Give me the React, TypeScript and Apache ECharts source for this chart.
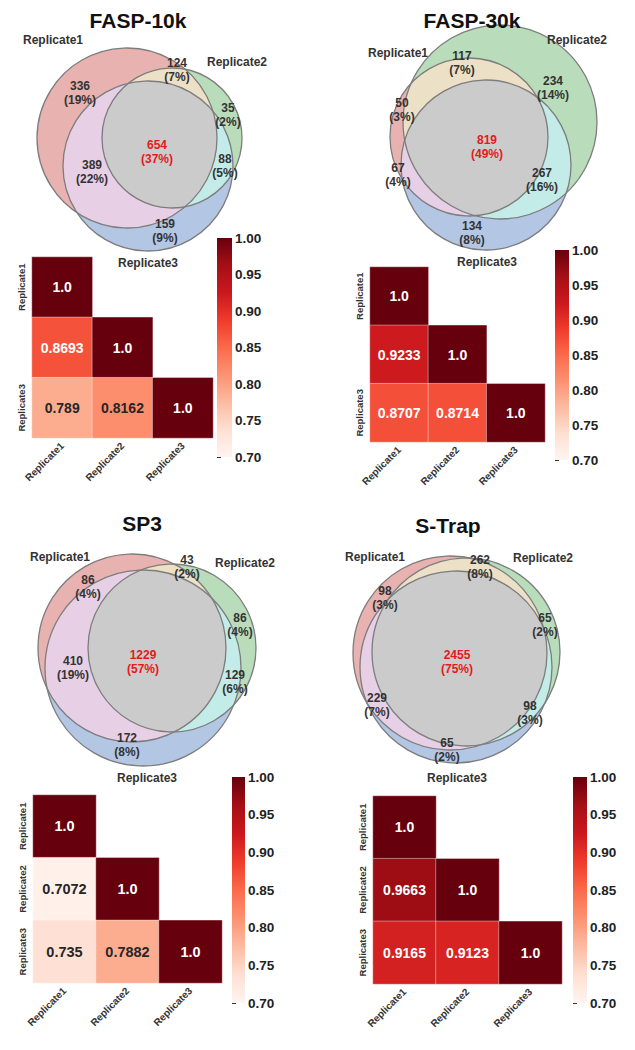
import React, { useEffect, useRef } from "react";
import * as echarts from "echarts";

// ---------------- data ----------------
const replicates = ["Replicate1", "Replicate2", "Replicate3"];
const panelTitles = ["FASP-10k", "FASP-30k", "SP3", "S-Trap"];

// Venn region counts, order: [R1 only, R2 only, R1∩R2, R3 only, R1∩R3, R2∩R3, R1∩R2∩R3]
const vennFasp10k = [336, 35, 124, 159, 389, 88, 654];
const vennFasp30k = [50, 234, 117, 134, 67, 267, 819];
const vennSp3 = [86, 86, 43, 172, 410, 129, 1229];
const vennStrap = [98, 65, 262, 65, 229, 98, 2455];

// Pearson correlation, lower triangle: [R2 vs R1, R3 vs R1, R3 vs R2]
const corrFasp10k = [0.8693, 0.789, 0.8162];
const corrFasp30k = [0.9233, 0.8707, 0.8714];
const corrSp3 = [0.7072, 0.735, 0.7882];
const corrStrap = [0.9663, 0.9165, 0.9123];
const diagValue = 1.0;

const colorMin = 0.7;
const colorMax = 1.0;
const colorInterval = 0.05;

// ---------------- styles / layout ----------------
const REDS = ["#fff5f0", "#fee0d2", "#fcbba1", "#fc9272", "#fb6a4a", "#ef3b2c", "#cb181d", "#a50f15", "#67000d"];
const REGION_COLORS = ["#e8b2b1", "#b9dcba", "#b3c7e4", "#ece0c7", "#e7cfe5", "#c3ebe8", "#cbcbcb"];
const FONT = '"Liberation Sans", Arial, Helvetica, sans-serif';

type Circ = [number, number, number];
interface Layout {
  title: [number, number];
  circles: Circ[]; // R1, R2, R3
  setLabels: [number, number][];
  regionLabels: [number, number][];
  grid: { left: number; top: number; width: number; height: number };
  cbar: { left: number; top: number; width: number; height: number };
  annotSize: number;
}

const layouts: Layout[] = [
  {
    title: [138, 20],
    circles: [[127, 138, 90], [172, 138, 70], [148, 166, 85]],
    setLabels: [[53, 40], [237, 62], [148, 263]],
    regionLabels: [[80, 93], [228, 115], [177, 70], [165, 231], [92, 172], [225, 166], [157, 152]],
    grid: { left: 32, top: 257, width: 181, height: 181 },
    cbar: { left: 217, top: 238, width: 15, height: 219 },
    annotSize: 14,
  },
  {
    title: [472, 20],
    circles: [[469, 137, 79], [500, 122, 97], [486, 165, 85]],
    setLabels: [[398, 53], [577, 40], [487, 262]],
    regionLabels: [[402, 110], [553, 88], [462, 63], [472, 233], [398, 175], [542, 180], [487, 147]],
    grid: { left: 370, top: 267, width: 175, height: 175 },
    cbar: { left: 555, top: 250, width: 14, height: 210 },
    annotSize: 14,
  },
  {
    title: [142, 523],
    circles: [[132, 648, 94], [172, 648, 84], [143, 668, 98]],
    setLabels: [[60, 557], [245, 563], [147, 778]],
    regionLabels: [[88, 587], [240, 625], [187, 567], [127, 745], [73, 668], [235, 682], [143, 662]],
    grid: { left: 33, top: 795, width: 189, height: 188 },
    cbar: { left: 232, top: 777, width: 13, height: 226 },
    annotSize: 14.5,
  },
  {
    title: [448, 525],
    circles: [[450, 653, 97], [466, 652, 94], [456, 667, 96]],
    setLabels: [[375, 557], [543, 558], [457, 778]],
    regionLabels: [[385, 598], [545, 625], [480, 567], [447, 750], [377, 705], [530, 713], [457, 662]],
    grid: { left: 373, top: 796, width: 189, height: 188 },
    cbar: { left: 573, top: 777, width: 14, height: 226 },
    annotSize: 14,
  },
];

const vennData = [vennFasp10k, vennFasp30k, vennSp3, vennStrap];
const corrData = [corrFasp10k, corrFasp30k, corrSp3, corrStrap];

// ---------------- geometry helpers ----------------
function insideAll(x: number, y: number, cs: Circ[]) {
  return cs.every(([cx, cy, r]) => (x - cx) * (x - cx) + (y - cy) * (y - cy) <= r * r);
}

function intersectionPolygon(cs: Circ[]): number[][] | null {
  const [c0x, c0y, r0] = cs[0];
  let sx = 0, sy = 0, n = 0;
  const N = 90;
  for (let i = 0; i <= N; i++) {
    for (let j = 0; j <= N; j++) {
      const x = c0x - r0 + (2 * r0 * i) / N;
      const y = c0y - r0 + (2 * r0 * j) / N;
      if (insideAll(x, y, cs)) { sx += x; sy += y; n++; }
    }
  }
  if (!n) return null;
  const px = sx / n, py = sy / n;
  const pts: number[][] = [];
  const K = 720;
  for (let k = 0; k < K; k++) {
    const a = (k * 2 * Math.PI) / K;
    const dx = Math.cos(a), dy = Math.sin(a);
    let tMin = Infinity;
    for (const [cx, cy, r] of cs) {
      const fx = px - cx, fy = py - cy;
      const b = fx * dx + fy * dy;
      const c = fx * fx + fy * fy - r * r;
      const t = -b + Math.sqrt(Math.max(0, b * b - c));
      if (t < tMin) tMin = t;
    }
    pts.push([px + tMin * dx, py + tMin * dy]);
  }
  return pts;
}

function vennGraphics(i: number): any[] {
  const L = layouts[i];
  const counts = vennData[i];
  const total = counts.reduce((a, b) => a + b, 0);
  const [c1, c2, c3] = L.circles;
  const els: any[] = [];
  // single sets
  [c1, c2, c3].forEach((c, k) => {
    els.push({ type: "circle", silent: true, shape: { cx: c[0], cy: c[1], r: c[2] }, style: { fill: REGION_COLORS[[0, 1, 2][k]] } });
  });
  // pairwise lenses
  const pairs: [Circ[], string][] = [
    [[c1, c2], REGION_COLORS[3]],
    [[c1, c3], REGION_COLORS[4]],
    [[c2, c3], REGION_COLORS[5]],
  ];
  pairs.forEach(([cs, col]) => {
    const pts = intersectionPolygon(cs);
    if (pts) els.push({ type: "polygon", silent: true, shape: { points: pts }, style: { fill: col } });
  });
  const tri = intersectionPolygon([c1, c2, c3]);
  if (tri) els.push({ type: "polygon", silent: true, shape: { points: tri }, style: { fill: REGION_COLORS[6] } });
  // outlines
  [c1, c2, c3].forEach((c) => {
    els.push({ type: "circle", silent: true, shape: { cx: c[0], cy: c[1], r: c[2] }, style: { fill: "none", stroke: "#7d7d7d", lineWidth: 1.3 } });
  });
  // region labels
  counts.forEach((v, k) => {
    const [x, y] = L.regionLabels[k];
    const pct = Math.round((v / total) * 100);
    const isCenter = k === 6;
    els.push({
      type: "text", silent: true, x, y, z: 10,
      style: {
        text: `${v}\n(${pct}%)`,
        fill: isCenter ? "#e41a1c" : "#333333",
        fontSize: 12, fontWeight: "bold", fontFamily: FONT, lineHeight: 13.5,
        align: "center", verticalAlign: "middle", textAlign: "center", textVerticalAlign: "middle",
      },
    });
  });
  // set labels
  L.setLabels.forEach(([x, y], k) => {
    els.push({
      type: "text", silent: true, x, y, z: 10,
      style: {
        text: replicates[k], fill: "#333333", fontSize: 12, fontWeight: "bold", fontFamily: FONT,
        align: "center", verticalAlign: "middle", textAlign: "center", textVerticalAlign: "middle",
      },
    });
  });
  // title
  els.push({
    type: "text", silent: true, x: L.title[0], y: L.title[1], z: 10,
    style: {
      text: panelTitles[i], fill: "#111111", fontSize: 21, fontWeight: "bold", fontFamily: FONT,
      align: "center", verticalAlign: "middle", textAlign: "center", textVerticalAlign: "middle",
    },
  });
  return els;
}

function heatData(corr: number[]) {
  const [r21, r31, r32] = corr;
  const cells: [number, number, number][] = [
    [0, 0, diagValue], [0, 1, r21], [1, 1, diagValue], [0, 2, r31], [1, 2, r32], [2, 2, diagValue],
  ];
  return cells.map((c) => ({
    value: c,
    label: { color: c[2] >= 0.84 ? "#ffffff" : "#262626" },
  }));
}

function buildOption(): any {
  const grid: any[] = [];
  const xAxis: any[] = [];
  const yAxis: any[] = [];
  const series: any[] = [];
  const visualMap: any[] = [];
  let graphics: any[] = [];
  const stops = REDS.map((c, k) => ({ offset: k / (REDS.length - 1), color: REDS[REDS.length - 1 - k] }));

  layouts.forEach((L, i) => {
    const gi = 2 * i;
    const ci = 2 * i + 1;
    grid.push({ left: L.grid.left, top: L.grid.top, width: L.grid.width, height: L.grid.height });
    grid.push({ left: L.cbar.left, top: L.cbar.top, width: L.cbar.width, height: L.cbar.height });

    xAxis.push({
      type: "category", gridIndex: gi, data: replicates,
      axisLine: { show: false }, axisTick: { show: false }, splitLine: { show: false },
      axisLabel: { rotate: 45, margin: 6, fontSize: 10, fontWeight: "bold", color: "#333", fontFamily: FONT },
    });
    yAxis.push({
      type: "category", gridIndex: gi, data: replicates, inverse: true,
      axisLine: { show: false }, axisTick: { show: false }, splitLine: { show: false },
      axisLabel: { rotate: 90, margin: 6, fontSize: 9.5, fontWeight: "bold", color: "#333", fontFamily: FONT },
    });
    xAxis.push({ type: "value", gridIndex: ci, min: 0, max: 1, show: false });
    yAxis.push({
      type: "value", gridIndex: ci, min: colorMin, max: colorMax, interval: colorInterval, position: "right",
      axisLine: { show: false }, splitLine: { show: false },
      axisTick: { show: true, length: 4, lineStyle: { color: "#333", width: 1 } },
      axisLabel: {
        margin: 3, fontSize: 13.5, fontWeight: "bold", color: "#222", fontFamily: FONT,
        formatter: (v: number) => v.toFixed(2),
      },
    });

    const hmIndex = series.length;
    series.push({
      type: "heatmap", xAxisIndex: gi, yAxisIndex: gi,
      data: heatData(corrData[i]),
      itemStyle: { borderColor: "rgba(255,255,255,0.55)", borderWidth: 0.7 },
      label: {
        show: true, fontSize: L.annotSize, fontWeight: "bold", fontFamily: FONT,
        formatter: (p: any) => { const v = p.value[2]; return v === 1 ? "1.0" : String(v); },
      },
      emphasis: { disabled: true },
    });
    visualMap.push({
      type: "continuous", min: colorMin, max: colorMax, seriesIndex: hmIndex, show: false, dimension: 2,
      inRange: { color: REDS },
    });
    series.push({
      type: "custom", xAxisIndex: ci, yAxisIndex: ci,
      data: [[0, 1, colorMin, colorMax]],
      encode: { x: [0, 1], y: [2, 3] },
      silent: true,
      renderItem: (params: any, api: any) => {
        const p0 = api.coord([api.value(0), api.value(3)]);
        const p1 = api.coord([api.value(1), api.value(2)]);
        return {
          type: "rect",
          shape: { x: p0[0], y: p0[1], width: p1[0] - p0[0], height: p1[1] - p0[1] },
          style: { fill: new echarts.graphic.LinearGradient(0, 0, 0, 1, stops) },
        };
      },
    });

    graphics = graphics.concat(vennGraphics(i));
  });

  return {
    animation: false,
    backgroundColor: "#ffffff",
    textStyle: { fontFamily: FONT },
    grid, xAxis, yAxis, series, visualMap,
    graphic: { elements: graphics },
  };
}

export default function App() {
  const ref = useRef<HTMLDivElement>(null);
  useEffect(() => {
    if (!ref.current) return;
    const chart = echarts.init(ref.current, undefined, { renderer: "svg" });
    chart.setOption(buildOption());
    return () => chart.dispose();
  }, []);
  return (
    <div
      ref={ref}
      style={{ position: "absolute", left: 0, top: 0, width: 635, height: 1050, background: "#fff" }}
    />
  );
}
